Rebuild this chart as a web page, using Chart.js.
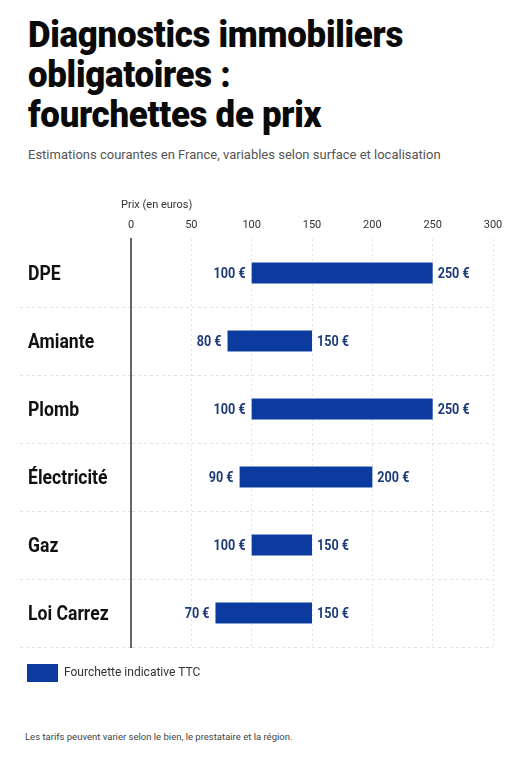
<!DOCTYPE html>
<html><head><meta charset="utf-8">
<script src="https://cdn.jsdelivr.net/npm/chart.js@4/dist/chart.umd.min.js"></script>
<style>
html,body{margin:0;padding:0;background:#fff;width:511px;height:768px;overflow:hidden;}
#title{position:absolute;left:28px;top:14.5px;margin:0;font-family:Roboto,sans-serif;font-weight:900;font-size:36px;line-height:40px;color:#0a0a0a;letter-spacing:-0.3px;transform-origin:0 0;white-space:nowrap;}
#title span{display:inline-block;}
#subtitle{position:absolute;left:28px;top:146.6px;font-family:Roboto,sans-serif;font-size:13px;line-height:16px;color:#555;white-space:nowrap;}
#footer{position:absolute;left:25px;top:730.7px;font-family:Roboto,sans-serif;font-size:9.5px;line-height:12px;color:#444;white-space:nowrap;}
#wrap{position:absolute;left:0;top:190px;width:511px;height:502px;}
</style></head>
<body>
<h1 id="title"><span id="t1">Diagnostics immobiliers</span><br><span>obligatoires :</span><br><span>fourchettes de prix</span></h1>
<div id="subtitle">Estimations courantes en France, variables selon surface et localisation</div>
<div id="wrap"><canvas id="c" width="511" height="502"></canvas></div>
<div id="footer">Les tarifs peuvent varier selon le bien, le prestataire et la région.</div>
<script>
const categories = ['DPE', 'Amiante', 'Plomb', 'Électricité', 'Gaz', 'Loi Carrez'];
const minPrices = [100, 80, 100, 90, 100, 70];
const maxPrices = [250, 150, 250, 200, 150, 150];
const xTicks = [0, 50, 100, 150, 200, 250, 300];
const axisTitle = 'Prix (en euros)';
const seriesLabel = 'Fourchette indicative TTC';

const BAR = '#0b3b9f';
const LABEL = '#1d3b78';
const GRID = '#e2e2e2';
const COND_VAL = 0.84;
const COND_CAT = 0.88;

// condense the headline to the reference width
(function () {
  const t = document.getElementById('title');
  const w = document.getElementById('t1').getBoundingClientRect().width;
  t.style.transform = 'scaleX(' + (375 / w) + ')';
})();

function condensedText(ctx, text, x, y, align, sx) {
  ctx.save();
  ctx.translate(x, y);
  ctx.scale(sx, 1);
  ctx.textAlign = align;
  ctx.fillText(text, 0, 0);
  ctx.restore();
}

const rangeLabels = {
  id: 'rangeLabels',
  afterDatasetsDraw(chart) {
    const ctx = chart.ctx;
    const meta = chart.getDatasetMeta(0);
    ctx.save();
    ctx.font = 'bold 15px Roboto, sans-serif';
    ctx.fillStyle = LABEL;
    ctx.textBaseline = 'middle';
    meta.data.forEach((bar, i) => {
      const p = bar.getProps(['x', 'base', 'y'], true);
      condensedText(ctx, minPrices[i] + ' €', Math.min(p.x, p.base) - 6, p.y + 1, 'right', COND_VAL);
      condensedText(ctx, maxPrices[i] + ' €', Math.max(p.x, p.base) + 5, p.y + 1, 'left', COND_VAL);
    });
    ctx.restore();
  }
};

const textPlugin = {
  id: 'textPlugin',
  afterDraw(chart) {
    const ctx = chart.ctx;
    const ys = chart.scales.y;
    ctx.save();
    ctx.font = '11px Roboto, sans-serif';
    ctx.fillStyle = '#333';
    ctx.textAlign = 'left';
    ctx.textBaseline = 'middle';
    ctx.fillText(axisTitle, chart.chartArea.left - 10, 15);
    ctx.font = 'bold 20px Roboto, sans-serif';
    ctx.fillStyle = '#111';
    categories.forEach((c, i) => {
      condensedText(ctx, c, 28, ys.getPixelForTick(i) + 2, 'left', COND_CAT);
    });
    ctx.restore();
  }
};

new Chart(document.getElementById('c'), {
  type: 'bar',
  data: {
    labels: categories,
    datasets: [{
      label: seriesLabel,
      data: categories.map((c, i) => [minPrices[i], maxPrices[i]]),
      backgroundColor: BAR,
      borderWidth: 0,
      barPercentage: 0.31,
      categoryPercentage: 1
    }]
  },
  options: {
    indexAxis: 'y',
    responsive: false,
    animation: false,
    devicePixelRatio: 1,
    layout: { padding: { left: 10, right: 18, top: 0, bottom: 0 } },
    plugins: {
      legend: {
        position: 'bottom',
        align: 'start',
        labels: {
          boxWidth: 31, boxHeight: 18, padding: 17,
          color: '#333',
          font: { family: 'Roboto, sans-serif', size: 12 }
        }
      },
      tooltip: { enabled: false }
    },
    scales: {
      x: {
        position: 'top',
        min: 0, max: 300,
        afterBuildTicks: s => { s.ticks = xTicks.map(v => ({ value: v })); },
        afterFit: s => { s.height = 49; },
        ticks: { padding: 7, color: '#333', font: { family: 'Roboto, sans-serif', size: 11 } },
        grid: {
          drawTicks: false,
          lineWidth: 1,
          color: ctx => (ctx.tick && ctx.tick.value === 0) ? 'rgba(0,0,0,0)' : GRID
        },
        border: { display: false, dash: [2, 3] }
      },
      y: {
        afterFit: s => { s.width = 121; },
        ticks: { display: false },
        grid: {
          tickLength: 111,
          lineWidth: 1,
          color: ctx => (ctx.index === 0 || ctx.index === categories.length) ? 'rgba(0,0,0,0)' : GRID,
          tickColor: ctx => (ctx.index === 0 || ctx.index === categories.length) ? 'rgba(0,0,0,0)' : GRID,
          tickBorderDash: [3, 3]
        },
        border: { display: true, color: '#666', width: 2, dash: [3, 3] }
      }
    }
  },
  plugins: [rangeLabels, textPlugin]
});
</script>
</body></html>
